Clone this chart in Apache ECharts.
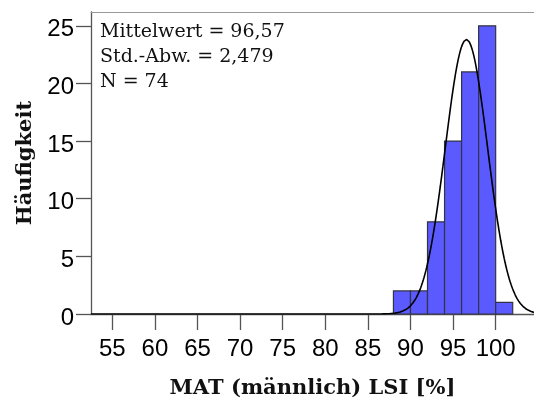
<!DOCTYPE html>
<html>
<head>
<meta charset="utf-8">
<script src="https://cdn.jsdelivr.net/npm/echarts@6/dist/echarts.min.js"></script>
<style>
  html, body { margin: 0; padding: 0; background: #ffffff; }
  #chart { width: 534px; height: 403px; }
</style>
</head>
<body>
<div id="chart"></div>
<script>
// Histogram bins (left edge of each bin) and their counts
const binStarts = [88, 90, 92, 94, 96, 98, 100];
const binWidth = 2;
const counts = [2, 2, 8, 15, 21, 25, 1];

// Tick labels
const xTicks = [55, 60, 65, 70, 75, 80, 85, 90, 95, 100];
const yTicks = [0, 5, 10, 15, 20, 25];

// Summary statistics shown in the legend box
const mean = 96.57;
const stdDev = 2.479;
const sampleSize = 74;

const xMin = 52.5, xMax = 104.5;

// Bars as [start, end, count]
const barData = binStarts.map((s, i) => [s, s + binWidth, counts[i]]);

// Fitted normal curve scaled to frequency per bin
const curveData = [];
for (let x = xMin; x <= xMax + 1e-9; x += 0.1) {
  const z = (x - mean) / stdDev;
  const y = sampleSize * binWidth * Math.exp(-0.5 * z * z) / (stdDev * Math.sqrt(2 * Math.PI));
  curveData.push([x, y]);
}

const serif = 'DejaVu Serif';
const sans = 'Liberation Sans';
const axisColor = '#555555';

const chart = echarts.init(document.getElementById('chart'), null, { renderer: 'canvas' });
chart.setOption({
  animation: false,
  backgroundColor: '#ffffff',
  grid: { left: 91, right: 0, top: 12, bottom: 89, containLabel: false, outerBoundsMode: 'none' },
  xAxis: [{
    type: 'value', min: xMin, max: xMax,
    name: 'MAT (männlich) LSI [%]',
    nameLocation: 'middle', nameGap: 64,
    nameTextStyle: { fontFamily: serif, fontWeight: 'bold', fontSize: 21, color: '#111' },
    axisLine: { show: true, onZero: false, lineStyle: { color: axisColor, width: 1.3 } },
    axisTick: { show: true, length: 16, lineStyle: { color: axisColor, width: 1.3 }, customValues: xTicks },
    axisLabel: { fontFamily: sans, fontSize: 24, color: '#000', margin: 23, customValues: xTicks },
    splitLine: { show: false }
  }, {
    // thin frame line along the top of the plot
    type: 'value', position: 'top', min: xMin, max: xMax,
    axisLine: { show: true, onZero: false, lineStyle: { color: '#9a9a9a', width: 1 } },
    axisTick: { show: false }, axisLabel: { show: false }, splitLine: { show: false }
  }],
  yAxis: {
    type: 'value', min: 0, max: 26.2,
    name: 'Häufigkeit',
    nameLocation: 'middle', nameGap: 55, nameRotate: 90,
    nameTextStyle: { fontFamily: serif, fontWeight: 'bold', fontSize: 21, color: '#111' },
    axisLine: { show: true, lineStyle: { color: axisColor, width: 1.3 } },
    axisTick: { show: true, length: 15, lineStyle: { color: axisColor, width: 1.3 }, customValues: yTicks },
    axisLabel: {
      color: '#000', margin: 17, customValues: yTicks,
      formatter: '{v|{value}}',
      rich: { v: { fontFamily: sans, fontSize: 24, color: '#000', padding: [8, 0, 0, 0] } }
    },
    splitLine: { show: false }
  },
  graphic: [{
    type: 'text', left: 100, top: 20, z: 10,
    style: {
      text: 'Mittelwert = 96,57\nStd.-Abw. = 2,479\nN = 74',
      font: '19px "DejaVu Serif"', fill: '#111', lineHeight: 25
    }
  }],
  series: [
    {
      type: 'custom',
      data: barData,
      encode: { x: [0, 1], y: 2 },
      renderItem: function (params, api) {
        const p0 = api.coord([api.value(0), api.value(2)]);
        const p1 = api.coord([api.value(1), 0]);
        return {
          type: 'rect',
          shape: { x: p0[0], y: p0[1], width: p1[0] - p0[0], height: p1[1] - p0[1] },
          style: { fill: '#5a5aff', stroke: '#333344', lineWidth: 1.2 }
        };
      },
      z: 2
    },
    {
      type: 'line',
      data: curveData,
      showSymbol: false,
      smooth: false,
      lineStyle: { color: '#000', width: 1.6 },
      z: 3
    }
  ]
});
</script>
</body>
</html>
